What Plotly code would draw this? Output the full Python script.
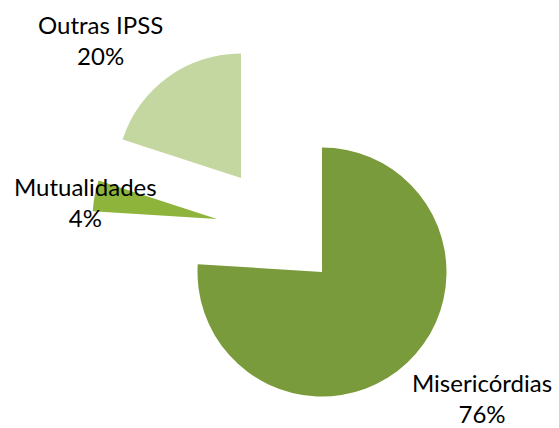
import plotly.graph_objects as go

labels = ["Misericórdias", "Mutualidades", "Outras IPSS"]
values = [76, 4, 20]
colors = ["#7A9B3B", "#8FB43C", "#C4D7A0"]

# slice vertex (pie centre after explosion) in pixels, and radius
W, H = 559, 428
R = 124.5
centers = [(322, 272), (217, 219), (241, 178)]
# label centres in pixels
label_pos = [(482, 398), (85, 202), (100, 40)]

fig = go.Figure()
for i, lab in enumerate(labels):
    cx, cy = centers[i]
    cols = [colors[j] if j == i else "rgba(0,0,0,0)" for j in range(len(labels))]
    fig.add_trace(go.Pie(
        labels=labels, values=values, sort=False, direction="clockwise", rotation=0,
        marker=dict(colors=cols, line=dict(width=0)),
        textinfo="none", showlegend=False,
        hoverinfo="label+percent",
        domain=dict(x=[(cx - R) / W, (cx + R) / W], y=[1 - (cy + R) / H, 1 - (cy - R) / H]),
    ))

total = sum(values)
for i, lab in enumerate(labels):
    x, y = label_pos[i]
    pct = round(100 * values[i] / total)
    fig.add_annotation(x=x / W, y=1 - y / H, xref="paper", yref="paper",
                       text=f"{lab}<br>{pct}%", showarrow=False,
                       font=dict(family="Lato", size=24, color="#000000"),
                       xanchor="center", yanchor="middle", align="center")

fig.update_layout(width=W, height=H, margin=dict(l=0, r=0, t=0, b=0),
                  paper_bgcolor="white", plot_bgcolor="white")
fig.write_html("out.html", config={"displayModeBar": False},
               post_script="document.body.style.margin='0';document.body.style.overflow='hidden';")
